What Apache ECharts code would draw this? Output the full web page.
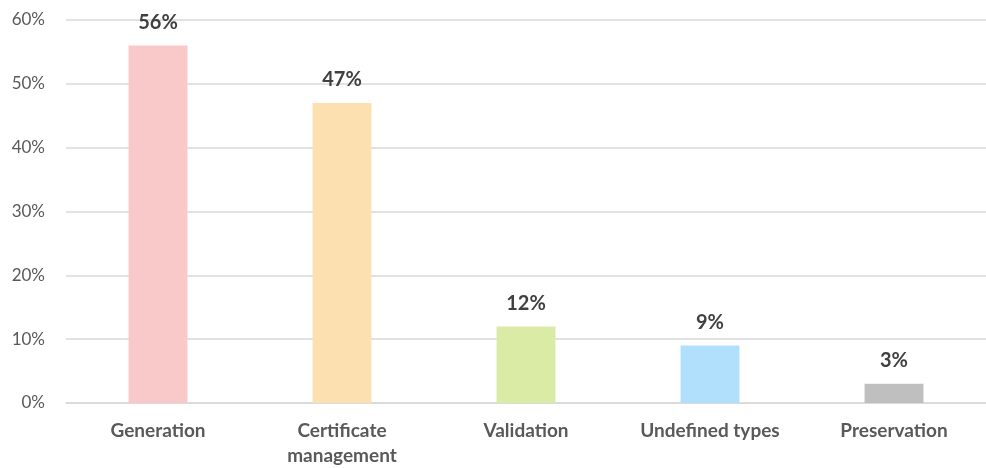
<!DOCTYPE html>
<html>
<head>
<meta charset="utf-8">
<script src="https://cdn.jsdelivr.net/npm/echarts@6/dist/echarts.min.js"></script>
<style>
  html, body { margin: 0; padding: 0; background: #fff; overflow: hidden; }
  #chart { width: 986px; height: 468px; }
</style>
</head>
<body>
<div id="chart"></div>
<script>
// 类别与数值
var categories = ["Generation", "Certificate\nmanagement", "Validation", "Undefined types", "Preservation"];
var values = [56, 47, 12, 9, 3];
var barColors = ["#F8C9C8", "#FCE0AF", "#D9EBA5", "#B1E0FC", "#BFBFBF"];

var chart = echarts.init(document.getElementById("chart"));
chart.setOption({
  animation: false,
  textStyle: { fontFamily: "Lato" },
  grid: { left: 66, top: 20, width: 933, height: 386 },
  xAxis: {
    type: "category",
    data: categories,
    axisTick: { show: false },
    axisLine: { lineStyle: { color: "#D9D9D9", width: 1.5 } },
    axisLabel: {
      color: "#595959",
      fontSize: 19,
      fontWeight: "bold",
      margin: 15,
      lineHeight: 25,
      interval: 0
    }
  },
  yAxis: {
    type: "value",
    min: 0,
    max: 60,
    interval: 10,
    axisLine: { show: false },
    axisTick: { show: false },
    splitLine: { lineStyle: { color: "#D9D9D9", width: 1.5 } },
    axisLabel: {
      color: "#595959",
      fontSize: 17,
      margin: 21,
      formatter: "{value}%"
    }
  },
  series: [{
    type: "bar",
    barWidth: "32%",
    data: values.map(function (v, i) {
      return { value: v, itemStyle: { color: barColors[i] } };
    }),
    label: {
      show: true,
      position: "top",
      distance: 13,
      color: "#404040",
      fontSize: 20,
      fontWeight: "bold",
      formatter: "{c}%"
    }
  }]
});
</script>
</body>
</html>
